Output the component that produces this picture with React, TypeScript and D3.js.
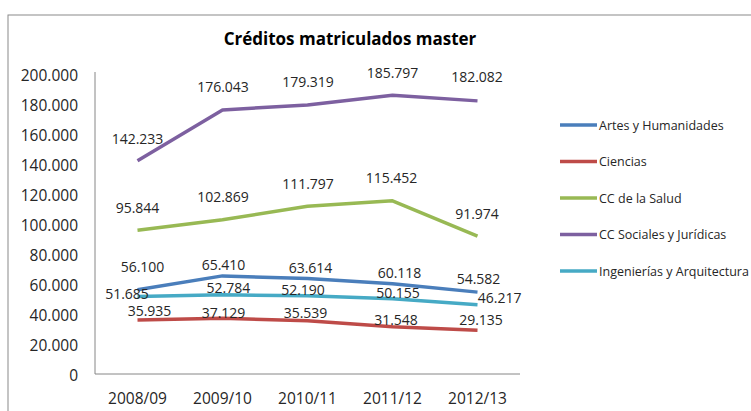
import React from "react";
import * as d3 from "d3";

const categories = ["2008/09", "2009/10", "2010/11", "2011/12", "2012/13"];
const seriesNames = [
  "Artes y Humanidades",
  "Ciencias",
  "CC de la Salud",
  "CC Sociales y Jurídicas",
  "Ingenierías y Arquitectura",
];
const artes = [56100, 65410, 63614, 60118, 54582];
const ciencias = [35935, 37129, 35539, 31548, 29135];
const salud = [95844, 102869, 111797, 115452, 91974];
const sociales = [142233, 176043, 179319, 185797, 182082];
const ingenierias = [51685, 52784, 52190, 50155, 46217];
const yTicks = [0, 20000, 40000, 60000, 80000, 100000, 120000, 140000, 160000, 180000, 200000];

const colors = ["#4a7ebb", "#be4b48", "#98b954", "#7d60a0", "#46aac5"];

// label placement offsets (pixels) relative to each point, as in the reference
const labelOffsets: [number, number][][] = [
  [[5, -23], [1, -11.6], [3, -11.3], [7, -11.1], [1, -13.8]],
  [[12, -9.1], [1, -5.6], [-2, -8.4], [3.5, -6.7], [3.5, -11]],
  [[0, -22.5], [0.5, -23], [0.5, -22.5], [-1, -23], [-0.5, -23]],
  [[0, -22], [0.5, -23.2], [0.5, -23.3], [0, -23.3], [-0.5, -24]],
  [[-10.5, -3.2], [5.8, -7.5], [-4.5, -6.4], [5.5, -6.1], [22.2, -7.4]],
];

const fmt = (v: number) => d3.format(",")(v).replace(/,/g, ".");

export default function App() {
  const W = 751, H = 411;
  const left = 95, right = 520, top = 74, bottom = 374;
  const data = [artes, ciencias, salud, sociales, ingenierias];
  const x = d3.scaleBand<string>().domain(categories).range([left, right]);
  const y = d3.scaleLinear().domain([0, 200000]).range([bottom, top]);
  const cx = (c: string) => (x(c) as number) + x.bandwidth() / 2;
  const line = d3
    .line<number>()
    .x((_, i) => cx(categories[i]))
    .y((v) => y(v))
    .curve(d3.curveLinear);
  const font = "'Open Sans', sans-serif";
  const textColor = "#262626";
  const legendX = 560;
  const legendY0 = 125;
  const legendStep = 36.5;

  return (
    <svg
      width={W}
      height={H}
      style={{ position: "absolute", left: 0, top: 0, background: "#fff" }}
      fontFamily={font}
    >
      <rect x={8} y={15} width={W + 10} height={H + 10} fill="#fff" stroke="#8a8a8a" strokeWidth={1} />
      <text
        x={350}
        y={38.5}
        textAnchor="middle"
        dominantBaseline="central"
        fontWeight="bold"
        fontSize={17}
        fill="#000"
      >
        Créditos matriculados master
      </text>
      {/* axes */}
      <line x1={left} x2={left} y1={top - 2} y2={bottom} stroke="#868686" strokeWidth={1} />
      <line x1={left} x2={right} y1={bottom} y2={bottom} stroke="#868686" strokeWidth={1} />
      {yTicks.map((t) => (
        <text
          key={t}
          x={78}
          y={y(t) + 1}
          textAnchor="end"
          dominantBaseline="central"
          fontSize={15.5}
          fill={textColor}
        >
          {fmt(t)}
        </text>
      ))}
      {categories.map((c) => (
        <text
          key={c}
          x={cx(c)}
          y={398}
          textAnchor="middle"
          dominantBaseline="central"
          fontSize={15.5}
          fill={textColor}
        >
          {c}
        </text>
      ))}
      {data.map((s, si) => (
        <path
          key={si}
          d={line(s) as string}
          fill="none"
          stroke={colors[si]}
          strokeWidth={3.5}
          strokeLinejoin="round"
        />
      ))}
      {data.map((s, si) =>
        s.map((v, i) => (
          <text
            key={`${si}-${i}`}
            x={cx(categories[i]) + labelOffsets[si][i][0]}
            y={y(v) + labelOffsets[si][i][1]}
            textAnchor="middle"
            dominantBaseline="central"
            fontSize={14}
            fill={textColor}
          >
            {fmt(v)}
          </text>
        ))
      )}
      {seriesNames.map((n, i) => (
        <g key={n}>
          <line
            x1={legendX}
            x2={legendX + 37}
            y1={legendY0 + i * legendStep}
            y2={legendY0 + i * legendStep}
            stroke={colors[i]}
            strokeWidth={3.5}
          />
          <text
            x={legendX + 39}
            y={legendY0 + i * legendStep}
            dominantBaseline="central"
            fontSize={12.5}
            fill={textColor}
          >
            {n}
          </text>
        </g>
      ))}
    </svg>
  );
}
